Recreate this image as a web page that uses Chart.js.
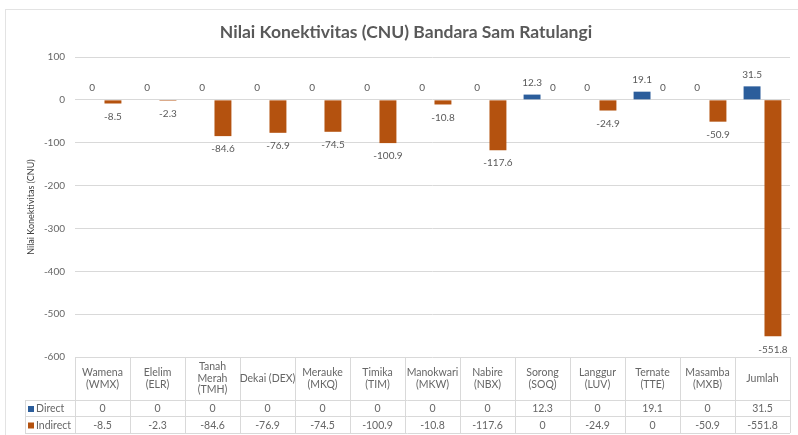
<!DOCTYPE html>
<html>
<head>
<meta charset="utf-8">
<script src="https://cdn.jsdelivr.net/npm/chart.js@4.4.1/dist/chart.umd.min.js"></script>
<style>
  body { margin: 0; background: #fff; }
  #wrap { width: 798px; height: 435px; }
</style>
</head>
<body>
<div id="wrap"><canvas id="cnuChart" width="798" height="435"></canvas></div>
<script>
// category names (multi-line, as in the table header)
const airports = [
  ["Wamena", "(WMX)"], ["Elelim", "(ELR)"], ["Tanah", "Merah", "(TMH)"], ["Dekai (DEX)"],
  ["Merauke", "(MKQ)"], ["Timika", "(TIM)"], ["Manokwari", "(MKW)"], ["Nabire", "(NBX)"],
  ["Sorong", "(SOQ)"], ["Langgur", "(LUV)"], ["Ternate", "(TTE)"], ["Masamba", "(MXB)"], ["Jumlah"]
];
const direct = [0, 0, 0, 0, 0, 0, 0, 0, 12.3, 0, 19.1, 0, 31.5];
const indirect = [-8.5, -2.3, -84.6, -76.9, -74.5, -100.9, -10.8, -117.6, 0, -24.9, 0, -50.9, -551.8];
const yTicks = [100, 0, -100, -200, -300, -400, -500, -600];

const blue = "#2b5d9b";
const orange = "#b4520f";
const textGray = "#595959";
const lineGray = "#d9d9d9";
const fontFam = "Lato, 'Open Sans', sans-serif";

// border around the whole chart
const frame = {
  id: "frame",
  beforeDraw(chart) {
    const ctx = chart.ctx;
    ctx.save();
    ctx.strokeStyle = "#e3e3e3";
    ctx.lineWidth = 1;
    ctx.strokeRect(5.5, 9.5, 820, 440);
    ctx.restore();
  }
};

// value labels over / under each bar
const barLabels = {
  id: "barLabels",
  afterDatasetsDraw(chart) {
    const ctx = chart.ctx;
    ctx.save();
    ctx.font = "10px " + fontFam;
    ctx.fillStyle = textGray;
    ctx.textAlign = "center";
    ctx.textBaseline = "middle";
    chart.data.datasets.forEach((ds, i) => {
      chart.getDatasetMeta(i).data.forEach((bar, j) => {
        const v = ds.data[j];
        const y = v >= 0 ? bar.y - 12 : bar.y + 13;
        ctx.fillText(String(v), bar.x, y);
      });
    });
    ctx.restore();
  }
};

// data table under the plot
const dataTable = {
  id: "dataTable",
  afterDraw(chart) {
    const ctx = chart.ctx;
    const area = chart.chartArea;
    const xs = chart.scales.x;
    const n = airports.length;
    const colW = (area.right - area.left) / n;
    const top = area.bottom;
    const r1 = 400, r2 = 416, bottom = 433;
    const keyLeft = 25;
    ctx.save();
    ctx.strokeStyle = lineGray;
    ctx.lineWidth = 1;
    ctx.beginPath();
    for (let i = 0; i <= n; i++) {
      const x = Math.round(area.left + i * colW) + 0.5;
      ctx.moveTo(x, top);
      ctx.lineTo(x, bottom);
    }
    [r1, r2, bottom].forEach(y => {
      ctx.moveTo(keyLeft, y + 0.5);
      ctx.lineTo(area.right, y + 0.5);
    });
    ctx.moveTo(keyLeft + 0.5, r1);
    ctx.lineTo(keyLeft + 0.5, bottom);
    ctx.stroke();

    ctx.font = "10.5px " + fontFam;
    ctx.fillStyle = "#666666";
    ctx.textAlign = "center";
    ctx.textBaseline = "middle";
    const hMid = (top + r1) / 2;
    airports.forEach((lines, i) => {
      const cx = xs.getPixelForValue(i);
      const lh = 11.5;
      lines.forEach((t, k) => {
        ctx.fillText(t, cx, hMid + (k - (lines.length - 1) / 2) * lh);
      });
      ctx.fillText(String(direct[i]), cx, (r1 + r2) / 2 + 1);
      ctx.fillText(String(indirect[i]), cx, (r2 + bottom) / 2 + 1);
    });

    // series keys
    ctx.textAlign = "left";
    [["Direct", blue, (r1 + r2) / 2 + 1], ["Indirect", orange, (r2 + bottom) / 2 + 1]].forEach(([name, col, y]) => {
      ctx.fillStyle = col;
      ctx.fillRect(28, y - 3, 6, 6);
      ctx.fillStyle = "#666666";
      ctx.fillText(name, 36, y);
    });
    ctx.restore();
  }
};

new Chart(document.getElementById("cnuChart"), {
  type: "bar",
  data: {
    labels: airports,
    datasets: [
      { label: "Direct", data: direct, backgroundColor: blue },
      { label: "Indirect", data: indirect, backgroundColor: orange }
    ]
  },
  options: {
    responsive: false,
    animation: false,
    devicePixelRatio: 1,
    layout: { padding: { left: 22, right: 8, top: 0, bottom: 78 } },
    datasets: { bar: { categoryPercentage: 0.76, barPercentage: 0.81 } },
    plugins: {
      legend: { display: false },
      tooltip: { enabled: false },
      title: {
        display: true,
        text: "Nilai Konektivitas (CNU) Bandara Sam Ratulangi",
        color: textGray,
        font: { family: fontFam, size: 17.5, weight: "bold" },
        padding: { top: 22, bottom: 14 }
      }
    },
    scales: {
      x: { display: false },
      y: {
        min: Math.min(...yTicks),
        max: Math.max(...yTicks),
        afterBuildTicks(scale) { scale.ticks = yTicks.map(v => ({ value: v })); },
        afterFit(scale) { scale.width = 53; },
        border: { display: false },
        grid: { color: lineGray, drawTicks: false },
        ticks: { color: "#666666", font: { family: fontFam, size: 10 }, padding: 10 },
        title: {
          display: true,
          text: "Nilai Konektivitas (CNU)",
          color: "#404040",
          font: { family: fontFam, size: 9 }
        }
      }
    }
  },
  plugins: [frame, barLabels, dataTable]
});
</script>
</body>
</html>
